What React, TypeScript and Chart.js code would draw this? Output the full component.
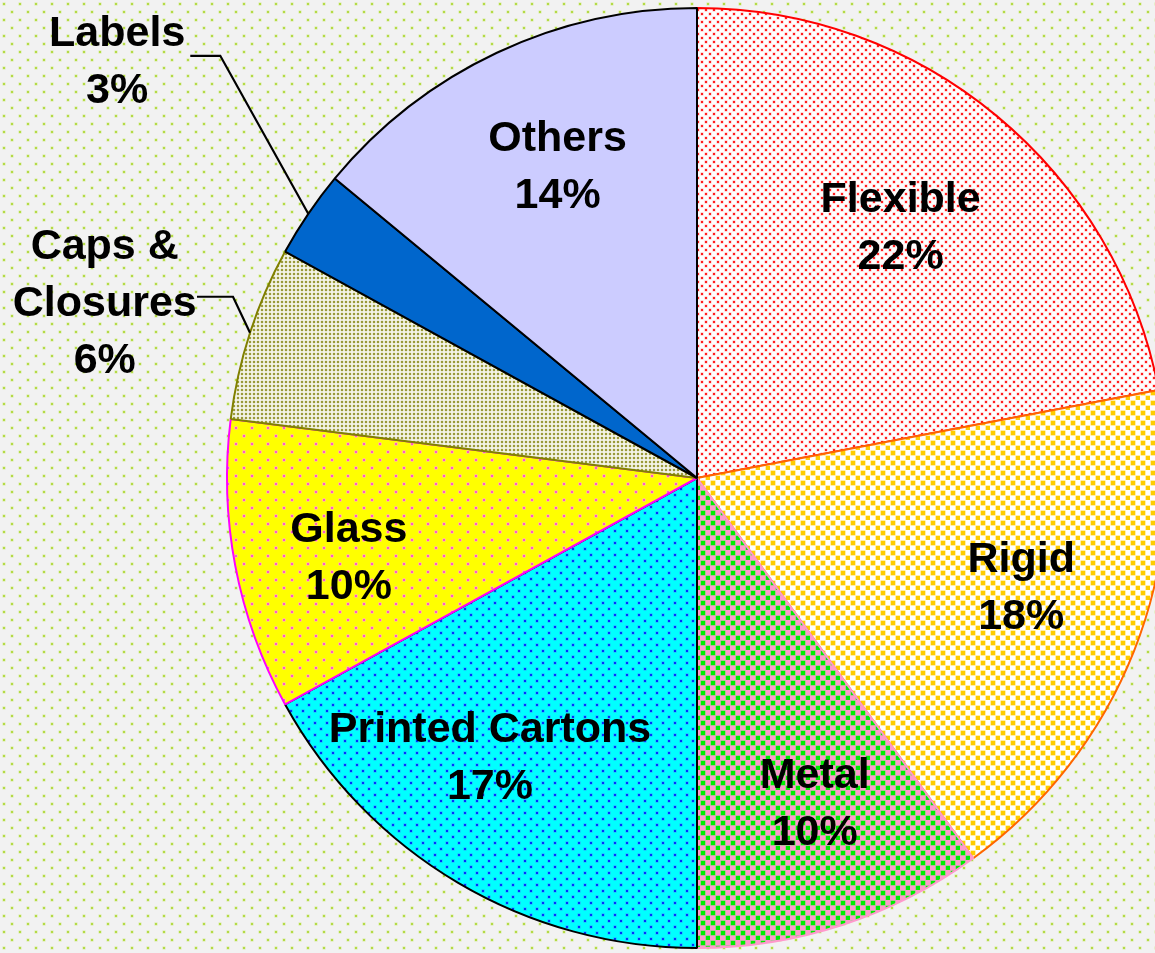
import React, { useEffect, useRef } from "react";
import { Chart, registerables } from "chart.js";

Chart.register(...registerables);

// ---- data ----
const categories = ["Flexible", "Rigid", "Metal", "Printed Cartons", "Glass", "Caps & Closures", "Labels", "Others"];
const shares = [22, 18, 10, 17, 10, 6, 3, 14];
const labelLines = [["Flexible"], ["Rigid"], ["Metal"], ["Printed Cartons"], ["Glass"], ["Caps &", "Closures"], ["Labels"], ["Others"]];

// ---- layout / style (not data) ----
const borderColors = ["#ff0000", "#ff6600", "#ff99cc", "#000000", "#ff00ff", "#808000", "#000000", "#000000"];
const labelRadius = [0.69, 0.727, 0.732, 0.737, 0.759, 1.315, 1.521, 0.729];
const labelTurnDeg = [-0.7, -3.2, -2, 6.1, -1.8, -1.4, 1.6, 1.2];
// leader lines for outside labels: [elbow dx, elbow dy, horizontal length]
const leaders: (number[] | null)[] = [null, null, null, null, null, [-17, -36, 36], [-88, -158, 30], null];

type Drawer = (c: CanvasRenderingContext2D) => void;

function makePattern(w: number, h: number, bg: string | null, draw: Drawer): CanvasPattern | string {
  const cv = document.createElement("canvas");
  cv.width = w;
  cv.height = h;
  const c = cv.getContext("2d")!;
  if (bg) {
    c.fillStyle = bg;
    c.fillRect(0, 0, w, h);
  }
  draw(c);
  const p = c.createPattern(cv, "repeat");
  return p || (bg ?? "#fff");
}

function dot(c: CanvasRenderingContext2D, x: number, y: number, core: string, halo: string, cs: number, hs: number) {
  c.fillStyle = halo;
  c.fillRect(x - hs / 2, y - hs / 2, hs, hs);
  c.fillStyle = core;
  c.fillRect(x - cs / 2, y - cs / 2, cs, cs);
}

function staggered(c: CanvasRenderingContext2D, w: number, h: number, core: string, halo: string, cs: number, hs: number) {
  const pts = [
    [w / 4, h / 4],
    [(3 * w) / 4, (3 * h) / 4],
  ];
  pts.forEach(([x, y]) => dot(c, Math.round(x), Math.round(y), core, halo, cs, hs));
}

export default function App() {
  const ref = useRef<HTMLCanvasElement>(null);

  useEffect(() => {
    if (!ref.current) return;
    const bgPattern = makePattern(16, 16, "#f2f2f2", (c) => staggered(c, 16, 16, "#99cc00", "#d8eca0", 1.5, 3));
    const fills = [
      makePattern(8, 8, "#ffffff", (c) => staggered(c, 8, 8, "#ff2020", "#ffb8b8", 2, 3)),
      makePattern(10, 10, "#ffffff", (c) => staggered(c, 10, 10, "#ffcc00", "#ffdd55", 4, 5)),
      makePattern(10, 10, "#ff99cc", (c) => staggered(c, 10, 10, "#00ee00", "#66dd66", 4, 5)),
      makePattern(12, 12, "#00ffff", (c) => staggered(c, 12, 12, "#0033ff", "#3399ff", 2, 3)),
      makePattern(16, 16, "#ffff00", (c) => staggered(c, 16, 16, "#ff55cc", "#ffaadd", 2, 3)),
      makePattern(4, 4, "#ffffff", (c) => dot(c, 2, 2, "#9a9a3a", "#d4d4a4", 2, 3)),
      "#0066cc",
      "#ccccff",
    ];

    const bgPlugin = {
      id: "bgfill",
      beforeDraw(chart: any) {
        const c = chart.ctx as CanvasRenderingContext2D;
        c.save();
        c.fillStyle = bgPattern as any;
        c.fillRect(0, 0, chart.width, chart.height);
        c.restore();
      },
    };

    const labelPlugin = {
      id: "slicelabels",
      afterDatasetsDraw(chart: any) {
        const c = chart.ctx as CanvasRenderingContext2D;
        const meta = chart.getDatasetMeta(0);
        c.save();
        c.font = 'bold 43px "Liberation Sans", Arial, sans-serif';
        c.textAlign = "center";
        c.textBaseline = "middle";
        c.fillStyle = "#000";
        const lh = 57;
        meta.data.forEach((arc: any, i: number) => {
          const { x, y, startAngle, endAngle, outerRadius } = arc.getProps(["x", "y", "startAngle", "endAngle", "outerRadius"], true);
          const mid = (startAngle + endAngle) / 2;
          const a = mid + (labelTurnDeg[i] * Math.PI) / 180;
          const cx = x + Math.cos(a) * outerRadius * labelRadius[i];
          const cy = y + Math.sin(a) * outerRadius * labelRadius[i] + 3;
          const lines = [...labelLines[i], `${shares[i]}%`];
          const top = cy - ((lines.length - 1) * lh) / 2;
          lines.forEach((t, k) => c.fillText(t, cx, top + k * lh));

          const ld = leaders[i];
          if (ld) {
            const ex = x + Math.cos(mid) * outerRadius;
            const ey = y + Math.sin(mid) * outerRadius;
            const bx = ex + ld[0];
            const by = ey + ld[1];
            c.beginPath();
            c.strokeStyle = "#000";
            c.lineWidth = 2.2;
            c.moveTo(ex, ey);
            c.lineTo(bx, by);
            c.lineTo(bx - ld[2], by);
            c.stroke();
          }
        });
        c.restore();
      },
    };

    const chart = new Chart(ref.current, {
      type: "pie",
      data: {
        labels: categories,
        datasets: [
          {
            data: shares,
            backgroundColor: fills as any,
            borderColor: borderColors,
            borderWidth: 2,
            hoverOffset: 0,
            hoverBorderWidth: 2,
          },
        ],
      },
      options: {
        responsive: false,
        animation: false,
        events: [],
        layout: { padding: { top: 7, bottom: 7, left: 0, right: 0 } },
        plugins: {
          legend: { display: false },
          tooltip: { enabled: false },
        },
      },
      plugins: [bgPlugin, labelPlugin],
    });
    return () => chart.destroy();
  }, []);

  return (
    <div
      style={{
        position: "fixed",
        left: 0,
        top: 0,
        width: 1155,
        height: 953,
        overflow: "hidden",
        background: "#f2f2f2",
      }}
    >
      <canvas ref={ref} width={1394} height={956} style={{ display: "block", width: 1394, height: 956 }} />
    </div>
  );
}
